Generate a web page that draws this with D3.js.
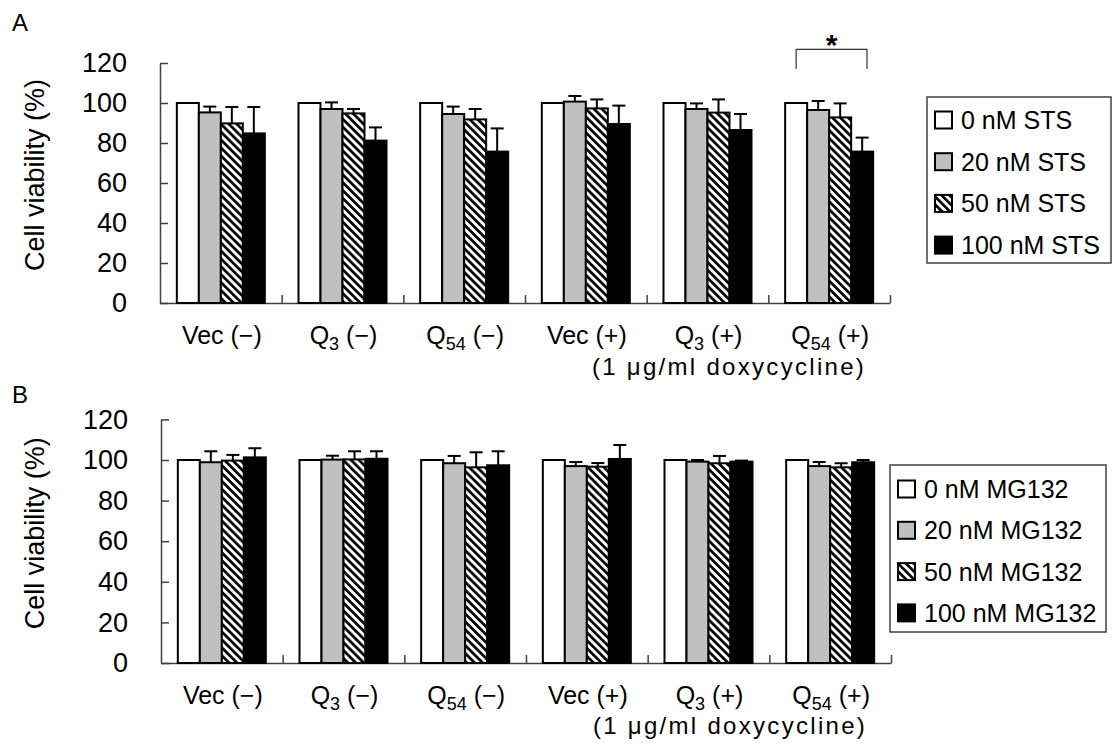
<!DOCTYPE html>
<html><head><meta charset="utf-8">
<script src="https://cdn.jsdelivr.net/npm/d3@7"></script>
<style>
body{margin:0;background:#fff;}
svg{display:block;font-family:"Liberation Sans",Arial,sans-serif;}
</style>
</head><body>
<svg id="c" width="1115" height="754"></svg>
<script>
// ---------- data ----------
const categories = ["Vec (−)", "Q (−)", "Q (−)", "Vec (+)", "Q (+)", "Q (+)"];
const categorySubscripts = ["", "3", "54", "", "3", "54"];
const yTicks = [0, 20, 40, 60, 80, 100, 120];

const stsLabels = ["0 nM STS", "20 nM STS", "50 nM STS", "100 nM STS"];
const sts0    = [100, 100, 100, 100, 100, 100];
const sts0Err = [0, 0, 0, 0, 0, 0];
const sts20    = [95.3, 97.0, 94.5, 100.7, 97.0, 96.5];
const sts20Err = [2.9, 3.3, 3.7, 2.8, 2.8, 4.5];
const sts50    = [89.8, 94.8, 91.8, 97.3, 95.2, 92.8];
const sts50Err = [8.2, 2.2, 5.2, 4.5, 6.6, 7.0];
const sts100    = [84.8, 81.2, 75.7, 89.5, 86.5, 75.7];
const sts100Err = [13.2, 6.6, 11.6, 9.2, 8.0, 7.0];

const mgLabels = ["0 nM MG132", "20 nM MG132", "50 nM MG132", "100 nM MG132"];
const mg0    = [100, 100, 100, 100, 100, 100];
const mg0Err = [0, 0, 0, 0, 0, 0];
const mg20    = [98.9, 100.2, 98.4, 97.0, 99.2, 97.0];
const mg20Err = [5.4, 1.9, 3.6, 2.0, 0.8, 2.0];
const mg50    = [99.7, 100.3, 96.4, 96.7, 98.4, 96.4];
const mg50Err = [2.8, 4.0, 7.4, 1.8, 3.6, 2.0];
const mg100    = [101.3, 100.6, 97.4, 100.5, 99.2, 98.9];
const mg100Err = [4.5, 3.7, 6.9, 6.9, 0.5, 1.1];

const doxLabel = "(1  μg/ml doxycycline)";
const yTitle = "Cell viability (%)";
// significance marker in panel A: between series 0 and 3 of the last category
const sigCategory = 5, sigLow = 117, sigHigh = 126.8, sigText = "*";

// ---------- drawing ----------
const svg = d3.select("#c");
const defs = svg.append("defs");
const pat = defs.append("pattern").attr("id", "hatch")
  .attr("patternUnits", "userSpaceOnUse").attr("width", 5.6).attr("height", 5.6)
  .attr("patternTransform", "rotate(-45)");
pat.append("rect").attr("width", 5.6).attr("height", 5.6).attr("fill", "#fff");
pat.append("rect").attr("width", 2.7).attr("height", 5.6).attr("fill", "#000");

const fills = ["#ffffff", "#c0c0c0", "url(#hatch)", "#000000"];

function drawPanel(cfg) {
  const g = svg.append("g");
  const y = d3.scaleLinear().domain([0, 120]).range([cfg.y0, cfg.y120]);
  const x0 = d3.scaleBand().domain(d3.range(categories.length)).range([cfg.left, cfg.right]).padding(0);
  const x1 = d3.scaleBand().domain(d3.range(4)).range([0, x0.bandwidth()]).paddingInner(0).paddingOuter(0.765);
  const xb = d3.scaleLinear().domain([0, categories.length]).range([cfg.left, cfg.right]);

  // panel letter
  g.append("text").attr("x", 12).attr("y", cfg.letterY).attr("font-size", 24).text(cfg.letter);

  // y axis
  const ya = g.append("g").attr("transform", `translate(${cfg.left},0)`)
    .call(d3.axisLeft(y).tickValues(yTicks).tickSize(-8).tickSizeOuter(0).tickPadding(33));
  ya.select(".domain").attr("stroke", "#404040").attr("stroke-width", 1.5);
  ya.selectAll(".tick line").attr("stroke", "#404040").attr("stroke-width", 1.5);
  ya.selectAll(".tick text").attr("font-size", 27).attr("fill", "#000")
    .attr("font-family", "Liberation Sans, Arial, sans-serif");

  // x axis with category boundary ticks
  const xa = g.append("g").attr("transform", `translate(0,${cfg.y0})`)
    .call(d3.axisBottom(xb).tickValues(d3.range(1, categories.length + 1)).tickSize(-8).tickSizeOuter(0).tickFormat(""));
  xa.select(".domain").attr("stroke", "#404040").attr("stroke-width", 1.5);
  xa.selectAll(".tick line").attr("stroke", "#404040").attr("stroke-width", 1.5);

  // y title
  g.append("text")
    .attr("transform", `translate(44,${(cfg.y0 + cfg.y120) / 2 - 8}) rotate(-90)`)
    .attr("text-anchor", "middle").attr("font-size", 27).text(yTitle);

  // bars
  cfg.series.forEach((s, si) => {
    const sg = g.append("g");
    sg.selectAll("rect").data(s.values).join("rect")
      .attr("x", (d, i) => x0(i) + x1(si))
      .attr("y", d => y(d))
      .attr("width", x1.bandwidth())
      .attr("height", d => y(0) - y(d))
      .attr("fill", fills[si]).attr("stroke", "#000").attr("stroke-width", 2);
    // error bars (upper only)
    s.values.forEach((v, i) => {
      const e = s.errs[i];
      if (!e) return;
      const cx = x0(i) + x1(si) + x1.bandwidth() / 2;
      sg.append("line").attr("x1", cx).attr("x2", cx).attr("y1", y(v)).attr("y2", y(v + e))
        .attr("stroke", "#000").attr("stroke-width", 2);
      sg.append("line").attr("x1", cx - 6.5).attr("x2", cx + 6.5).attr("y1", y(v + e)).attr("y2", y(v + e))
        .attr("stroke", "#000").attr("stroke-width", 2);
    });
  });

  // category labels
  categories.forEach((c, i) => {
    const cx = x0(i) + x0.bandwidth() / 2 + 1;
    const t = g.append("text").attr("x", cx).attr("y", cfg.labelY)
      .attr("text-anchor", "middle").attr("font-size", 25);
    const sub = categorySubscripts[i];
    if (sub) {
      const parts = c.split(" ");
      t.append("tspan").text(parts[0]);
      t.append("tspan").attr("font-size", 18).attr("dy", 6).text(sub);
      t.append("tspan").attr("dy", -6).text(" " + parts.slice(1).join(" "));
    } else {
      t.text(c);
    }
  });
  // doxycycline note
  const doxX = x0(3) + x0.bandwidth() * 0.55;
  g.append("text").attr("x", doxX).attr("y", cfg.doxY)
    .attr("font-size", 24).attr("letter-spacing", 2.3).text(doxLabel);

  // legend
  const L = cfg.legend;
  const lg = g.append("g");
  lg.append("rect").attr("x", L.x).attr("y", L.y).attr("width", L.w).attr("height", L.h)
    .attr("fill", "#fff").attr("stroke", "#404040").attr("stroke-width", 1.5);
  cfg.labels.forEach((lab, i) => {
    const cy = L.y + L.first + i * L.step;
    lg.append("rect").attr("x", L.x + 8).attr("y", cy - 8.5).attr("width", 17).attr("height", 17)
      .attr("fill", fills[i]).attr("stroke", "#000").attr("stroke-width", 2);
    lg.append("text").attr("x", L.x + 34).attr("y", cy + 9).attr("font-size", 25).text(lab);
  });

  // significance bracket
  if (cfg.sig) {
    const xa1 = x0(sigCategory) + x1(0) + x1.bandwidth() / 2;
    const xa2 = x0(sigCategory) + x1(3) + x1.bandwidth() * 0.72;
    g.append("path")
      .attr("d", `M${xa1},${y(sigLow)}V${y(sigHigh)}H${xa2}V${y(sigLow)}`)
      .attr("fill", "none").attr("stroke", "#333").attr("stroke-width", 1.2);
    g.append("text").attr("x", (xa1 + xa2) / 2).attr("y", y(sigHigh) + 6)
      .attr("text-anchor", "middle").attr("font-size", 30).attr("font-weight", "bold").text(sigText);
  }
}

drawPanel({
  letter: "A", letterY: 31,
  y0: 303, y120: 63, left: 160, right: 890,
  labelY: 344, doxY: 375,
  series: [
    {values: sts0, errs: sts0Err},
    {values: sts20, errs: sts20Err},
    {values: sts50, errs: sts50Err},
    {values: sts100, errs: sts100Err}
  ],
  labels: stsLabels,
  legend: {x: 927, y: 97, w: 184, h: 166, first: 23, step: 41.7},
  sig: true
});

drawPanel({
  letter: "B", letterY: 403,
  y0: 663, y120: 419.4, left: 161, right: 891,
  labelY: 704, doxY: 734,
  series: [
    {values: mg0, errs: mg0Err},
    {values: mg20, errs: mg20Err},
    {values: mg50, errs: mg50Err},
    {values: mg100, errs: mg100Err}
  ],
  labels: mgLabels,
  legend: {x: 890, y: 465, w: 216, h: 167, first: 24, step: 41.3},
  sig: false
});
</script>
</body></html>
